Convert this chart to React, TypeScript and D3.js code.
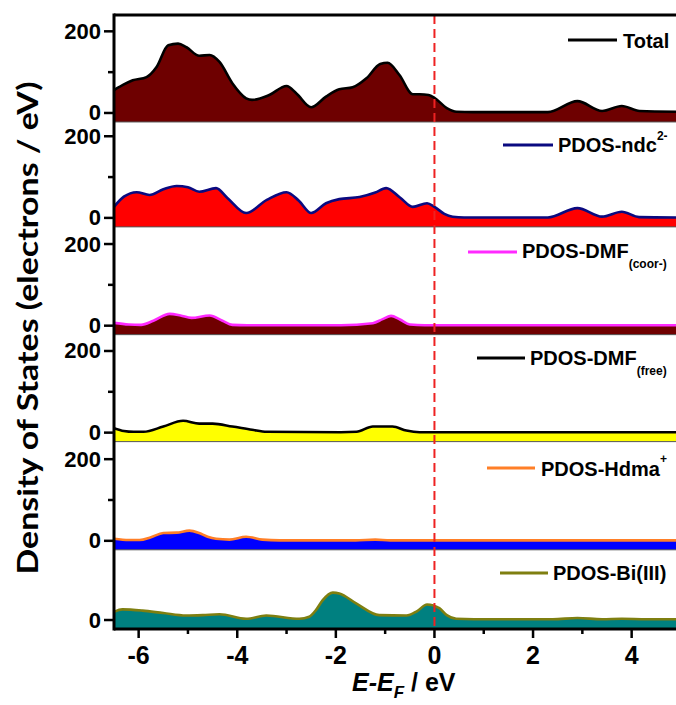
import React from 'react';
import * as d3 from 'd3';

// ---- Data (energy E-E_F in eV, DOS in electrons/eV) ----
const totalE = [-6.5, -6.3, -6.12, -5.84, -5.64, -5.4, -5.2, -5.03, -4.77, -4.56, -4.36, -4.1, -3.82, -3.7, -3.35, -3.0, -2.8, -2.5, -2.2, -1.93, -1.66, -1.38, -1.1, -0.95, -0.71, -0.44, -0.3, -0.12, 0.0, 0.25, 0.45, 0.78, 2.3, 2.9, 3.4, 3.8, 4.16, 5.0];
const totalV = [56, 70, 80, 88, 112, 166, 170, 161, 140, 142, 125, 73, 36, 32, 44, 66, 48, 14, 40, 58, 63, 85, 120, 123, 93, 46, 46, 44, 37, 12, 3, 2, 2, 29, 5, 17, 5, 3];

const ndcE = [-6.5, -6.3, -6.04, -5.78, -5.5, -5.23, -5.0, -4.77, -4.43, -4.2, -3.82, -3.4, -3.0, -2.75, -2.5, -2.2, -1.93, -1.52, -1.2, -0.98, -0.7, -0.44, -0.15, 0.0, 0.2, 0.37, 0.6, 2.3, 2.9, 3.4, 3.8, 4.15, 5.0];
const ndcV = [27, 52, 63, 56, 70, 78, 75, 64, 73, 49, 12, 44, 63, 42, 12, 36, 46, 51, 62, 73, 50, 27, 36, 27, 10, 3, 1, 1, 24, 3, 15, 2, 1];

const dmfCoorE = [-6.5, -6.2, -5.95, -5.7, -5.37, -5.15, -4.93, -4.56, -4.3, -4.1, -3.8, -1.9, -1.25, -1.05, -0.88, -0.7, -0.5, -0.2, 5.0];
const dmfCoorV = [7, 3, 2, 12, 29, 25, 19, 25, 12, 2, 1, 1, 6, 16, 24, 15, 3, 1, 1];

const dmfFreeE = [-6.5, -6.3, -6.1, -5.9, -5.5, -5.1, -4.77, -4.5, -4.1, -3.7, -3.4, -1.9, -1.58, -1.25, -0.85, -0.57, -0.3, 5.0];
const dmfFreeV = [11, 4, 2, 2, 15, 29, 22, 22, 15, 7, 2, 1, 2, 15, 15, 5, 1, 1];

const hdmaE = [-6.5, -6.2, -5.98, -5.75, -5.5, -5.23, -4.97, -4.77, -4.6, -4.43, -4.16, -3.82, -3.49, -3.14, -1.6, -1.2, -0.9, 5.0];
const hdmaV = [5, 2, 2, 9, 19, 20, 25, 19, 10, 5, 3, 10, 3, 1, 1, 3, 1, 1];

const biE = [-6.5, -6.33, -5.92, -5.5, -5.04, -4.7, -4.36, -3.82, -3.41, -2.74, -2.54, -2.4, -2.27, -2.06, -1.93, -1.58, -1.12, -0.57, -0.35, -0.15, 0.1, 0.25, 0.44, 0.8, 2.4, 2.9, 3.4, 3.8, 4.3, 5.0];
const biV = [20, 26, 23, 17, 11, 12, 14, 3, 11, 3, 8, 25, 48, 67, 65, 40, 12, 11, 22, 38, 29, 12, 3, 2, 2, 5, 2, 3, 2, 2];

const xMajorTicks = [-6, -4, -2, 0, 2, 4];
const xMinorTicks = [-5, -3, -1, 1, 3];
const yMajorTicks = [0, 200];
const yMinorTicks = [100];

const W = 676;
const H = 705;
const LEFT = 114;
const TOP = 15;
const BOTTOM = 629;
const Y_MIN = -22;
const Y_MAXES = [240, 235, 242, 240, 243, 172];

const FONT = "'Liberation Sans', Arial, sans-serif";

type Panel = {
  E: number[];
  V: number[];
  fill: string;
  stroke: string;
  ticks: number[];
  minor: number[];
};

const panels: Panel[] = [
  { E: totalE, V: totalV, fill: '#6e0000', stroke: '#000000', ticks: yMajorTicks, minor: yMinorTicks },
  { E: ndcE, V: ndcV, fill: '#ff0000', stroke: '#0a0a80', ticks: yMajorTicks, minor: yMinorTicks },
  { E: dmfCoorE, V: dmfCoorV, fill: '#700000', stroke: '#ff2aff', ticks: yMajorTicks, minor: yMinorTicks },
  { E: dmfFreeE, V: dmfFreeV, fill: '#ffff00', stroke: '#000000', ticks: yMajorTicks, minor: yMinorTicks },
  { E: hdmaE, V: hdmaV, fill: '#0000ff', stroke: '#ff7f27', ticks: yMajorTicks, minor: yMinorTicks },
  { E: biE, V: biV, fill: '#008080', stroke: '#7f7f10', ticks: [0], minor: [] },
];

export default function App() {
  const x = d3.scaleLinear().domain([-6.5, 5]).range([LEFT, LEFT + 11.5 * 49.3]);
  const spans = Y_MAXES.map((m) => m - Y_MIN);
  const k = (BOTTOM - TOP) / d3.sum(spans);
  let acc = TOP;
  const geo = panels.map((p, i) => {
    const pTop = acc;
    const pBottom = acc + spans[i] * k;
    acc = pBottom;
    const y = d3.scaleLinear().domain([Y_MIN, Y_MAXES[i]]).range([pBottom, pTop]);
    const pts: [number, number][] = p.E.map((e, j) => [e, p.V[j]]);
    const area = d3
      .area<[number, number]>()
      .x((d) => x(d[0]))
      .y0(pBottom)
      .y1((d) => y(d[1]))
      .curve(d3.curveMonotoneX);
    const line = d3
      .line<[number, number]>()
      .x((d) => x(d[0]))
      .y((d) => y(d[1]))
      .curve(d3.curveMonotoneX);
    return { pTop, pBottom, y, areaPath: area(pts) || '', linePath: line(pts) || '' };
  });

  const legendFont = { fontFamily: FONT, fontWeight: 700, fontSize: 20 } as const;

  return (
    <svg width={W} height={H} style={{ position: 'absolute', left: 0, top: 0, background: '#fff' }}>
      <defs>
        <clipPath id="plotclip">
          <rect x={LEFT} y={TOP} width={W - LEFT} height={BOTTOM - TOP} />
        </clipPath>
      </defs>
      <g clipPath="url(#plotclip)">
        {panels.map((p, i) => (
          <g key={i}>
            <path d={geo[i].areaPath} fill={p.fill} />
            <path d={geo[i].linePath} fill="none" stroke={p.stroke} strokeWidth={2.6} strokeLinejoin="round" />
          </g>
        ))}
        {geo.slice(0, 5).map((g, i) => (
          <line key={i} x1={LEFT} x2={W} y1={g.pBottom} y2={g.pBottom} stroke="#555" strokeWidth={1} />
        ))}
        <line x1={x(0)} x2={x(0)} y1={TOP} y2={BOTTOM} stroke="#ee2222" strokeWidth={2} strokeDasharray="9,5" />
      </g>

      {/* frame */}
      <line x1={LEFT} x2={W} y1={TOP} y2={TOP} stroke="#000" strokeWidth={3} />
      <line x1={LEFT} x2={W} y1={BOTTOM} y2={BOTTOM} stroke="#000" strokeWidth={3} />
      <line x1={LEFT} x2={LEFT} y1={TOP - 1.5} y2={BOTTOM + 1.5} stroke="#000" strokeWidth={3} />

      {/* y ticks */}
      {panels.map((p, i) => (
        <g key={i}>
          {p.ticks.map((t) => (
            <g key={t}>
              <line x1={LEFT - 10} x2={LEFT} y1={geo[i].y(t)} y2={geo[i].y(t)} stroke="#000" strokeWidth={2.5} />
              <text
                x={LEFT - 13}
                y={geo[i].y(t)}
                textAnchor="end"
                dominantBaseline="central"
                style={{ fontFamily: FONT, fontWeight: 700, fontSize: 22 }}
              >
                {t}
              </text>
            </g>
          ))}
          {p.minor.map((t) => (
            <line key={t} x1={LEFT - 6} x2={LEFT} y1={geo[i].y(t)} y2={geo[i].y(t)} stroke="#000" strokeWidth={2.5} />
          ))}
        </g>
      ))}

      {/* x ticks */}
      {xMajorTicks.map((t) => (
        <g key={t}>
          <line x1={x(t)} x2={x(t)} y1={BOTTOM} y2={BOTTOM + 9} stroke="#000" strokeWidth={2.5} />
          <text x={x(t)} y={664} textAnchor="middle" style={{ fontFamily: FONT, fontWeight: 700, fontSize: 25 }}>
            {t}
          </text>
        </g>
      ))}
      {xMinorTicks.map((t) => (
        <line key={t} x1={x(t)} x2={x(t)} y1={BOTTOM} y2={BOTTOM + 5} stroke="#000" strokeWidth={2.5} />
      ))}

      {/* axis titles */}
      <text x={352} y={691} style={{ fontFamily: FONT, fontWeight: 700, fontSize: 25 }}>
        <tspan fontStyle="italic">E-E</tspan>
        <tspan fontStyle="italic" fontSize={17} dy={7}>F</tspan>
        <tspan dy={-7}> / eV</tspan>
      </text>
      <text
        transform="translate(26,328) rotate(-90)"
        textAnchor="middle"
        dominantBaseline="central"
        textLength={493}
        lengthAdjust="spacingAndGlyphs"
        style={{ fontFamily: "Lato, 'Open Sans', sans-serif", fontWeight: 700, fontSize: 29 }}
      >
        Density of States (electrons / eV)
      </text>

      {/* legends */}
      <line x1={568} x2={617} y1={40} y2={40} stroke="#000" strokeWidth={3} />
      <text x={623} y={48} style={legendFont}>Total</text>

      <line x1={503} x2={553} y1={145} y2={145} stroke="#0a0a80" strokeWidth={3} />
      <text x={558} y={152} style={legendFont}>
        PDOS-ndc<tspan fontSize={12} dy={-12}>2-</tspan>
      </text>

      <line x1={468} x2={517} y1={252} y2={252} stroke="#ff2aff" strokeWidth={3} />
      <text x={522} y={258} style={legendFont}>
        PDOS-DMF<tspan fontSize={12} dy={10}>(coor-)</tspan>
      </text>

      <line x1={477} x2={525} y1={358} y2={358} stroke="#000" strokeWidth={3} />
      <text x={530} y={365} style={legendFont}>
        PDOS-DMF<tspan fontSize={12} dy={10}>(free)</tspan>
      </text>

      <line x1={487} x2={535} y1={468} y2={468} stroke="#ff7f27" strokeWidth={3} />
      <text x={541} y={476} style={legendFont}>
        PDOS-Hdma<tspan fontSize={12} dy={-13}>+</tspan>
      </text>

      <line x1={500} x2={548} y1={573} y2={573} stroke="#7f7f10" strokeWidth={3} />
      <text x={553} y={580} style={legendFont}>PDOS-Bi(III)</text>
    </svg>
  );
}
